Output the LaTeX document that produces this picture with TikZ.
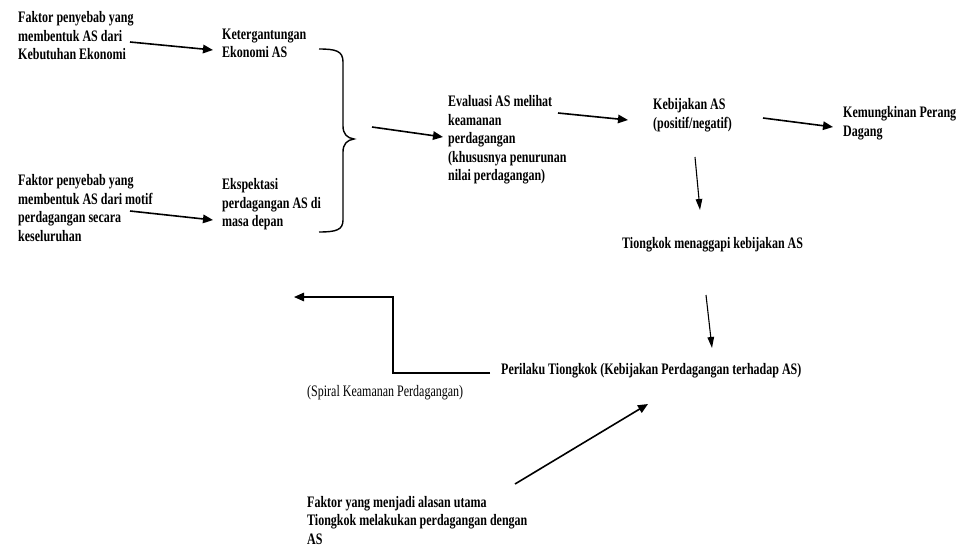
\documentclass[tikz,border=0pt]{standalone}
\usepackage{fontspec}
\setmainfont{Liberation Serif}[FakeStretch=0.75]
\usetikzlibrary{arrows.meta}
\tikzset{
  lbl/.style={inner sep=0pt, align=left, anchor=north west, font=\fontsize{16}{18.4}\selectfont\bfseries},
  plain/.style={inner sep=0pt, align=left, anchor=north west, font=\fontsize{16}{18.4}\selectfont},
  arr/.style={line width=1.6pt, -{Triangle[length=10pt,width=8.5pt]}},
  thinarr/.style={line width=1.1pt, -{Triangle[length=11pt,width=6.5pt]}},
  line/.style={line width=1.4pt},
}
\begin{document}
\begin{tikzpicture}[x=1pt,y=-1pt]
\useasboundingbox (0,0) rectangle (967,551);
% nodes
\node[lbl] (f1) at (18,11.5) {Faktor penyebab yang\\membentuk AS dari\\Kebutuhan Ekonomi};
\node[lbl] (k1) at (222,28.5) {Ketergantungan\\Ekonomi AS};
\node[lbl] (f2) at (18,174.5) {Faktor penyebab yang\\membentuk AS dari motif\\perdagangan secara\\keseluruhan};
\node[lbl] (e1) at (222,178.5) {Ekspektasi\\perdagangan AS di\\masa depan};
\node[lbl] (ev) at (448,95.5) {Evaluasi AS melihat\\keamanan\\perdagangan\\(khususnya penurunan\\nilai perdagangan)};
\node[lbl] (kb) at (653,98.5) {Kebijakan AS\\(positif/negatif)};
\node[lbl] (km) at (843,106.5) {Kemungkinan Perang\\Dagang};
\node[lbl] (tm) at (622,237.5) {Tiongkok menaggapi kebijakan AS};
\node[lbl] (pt) at (501,363) {Perilaku Tiongkok (Kebijakan Perdagangan terhadap AS)};
\node[plain] (sp) at (307,385) {(Spiral Keamanan Perdagangan)};
\node[lbl] (fb) at (307,496) {Faktor yang menjadi alasan utama\\Tiongkok melakukan perdagangan dengan\\AS};
% connector end points
\coordinate (a1s) at (130,42);  \coordinate (a1e) at (213,50);
\coordinate (a2s) at (130,211); \coordinate (a2e) at (213,220);
\coordinate (bt) at (354,139);
\coordinate (a3s) at (372,127); \coordinate (a3e) at (443,137);
\coordinate (a4s) at (558,113); \coordinate (a4e) at (628,120);
\coordinate (a5s) at (763,118); \coordinate (a5e) at (833,127);
\coordinate (a6s) at (695,157); \coordinate (a6e) at (700,210);
\coordinate (a7s) at (706,295); \coordinate (a7e) at (712,348);
\coordinate (els) at (490,373); \coordinate (elm1) at (393,373);
\coordinate (elm2) at (393,297); \coordinate (ele) at (294,297);
\coordinate (a8s) at (515,484); \coordinate (a8e) at (648,404);
% connectors
\draw[arr] (a1s) -- (a1e);
\draw[arr] (a2s) -- (a2e);
\draw[line] (319,49) .. controls (336,49) and (343,51) .. (343,62) -- (343,126)
  .. controls (343,134) and (347,138) .. (bt)
  .. controls (347,140) and (343,144) .. (343,152) -- (343,220)
  .. controls (343,230) and (336,232) .. (319,232);
\draw[arr] (a3s) -- (a3e);
\draw[arr] (a4s) -- (a4e);
\draw[arr] (a5s) -- (a5e);
\draw[thinarr] (a6s) -- (a6e);
\draw[thinarr] (a7s) -- (a7e);
\draw[line, -{Triangle[length=10pt,width=8.5pt]}] (els) -- (elm1) -- (elm2) -- (ele);
\draw[arr] (a8s) -- (a8e);
\end{tikzpicture}
\end{document}
